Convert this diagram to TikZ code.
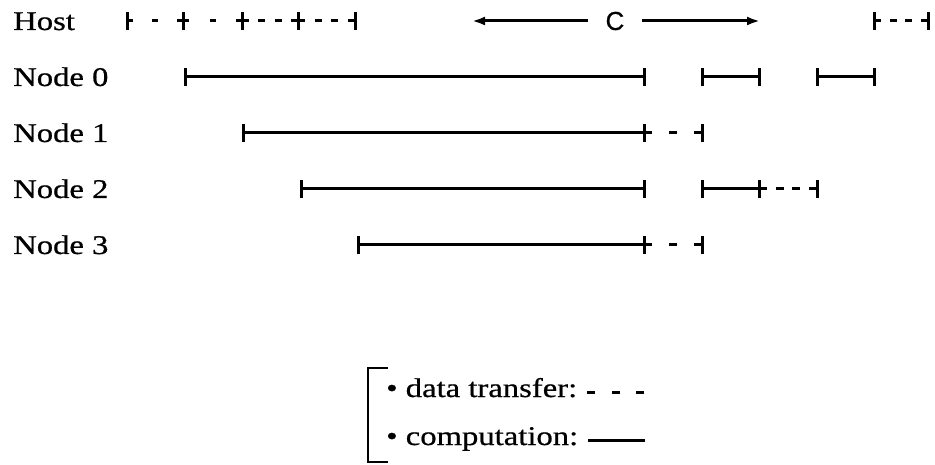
\documentclass[tikz,border=0pt]{standalone}
\usepackage{fontspec}
\setmainfont[FakeStretch=1.21,FakeBold=0.7]{Liberation Serif}
\newfontfamily\labelsans[FakeBold=0.6]{Liberation Sans}
\usetikzlibrary{arrows.meta}
\begin{document}
\begin{tikzpicture}[x=1pt,y=-1pt,
  lbl/.style={anchor=base west, inner sep=0pt, font=\fontsize{27}{32}\selectfont},
  comp/.style={line width=3pt},
  xfer/.style 2 args={line width=3pt, dash pattern=on #1pt off #2pt},
  tick/.style={line width=3pt},
  carrow/.style={line width=3pt, -{Latex[length=13pt,width=9pt]}}
]
\useasboundingbox (0,0) rectangle (935,465);

% row labels
\node[lbl] (lhost) at (13,30)  {Host};
\node[lbl] (ln0)   at (13,86)  {Node 0};
\node[lbl] (ln1)   at (13,142) {Node 1};
\node[lbl] (ln2)   at (13,198) {Node 2};
\node[lbl] (ln3)   at (13,254) {Node 3};

% host time marks
\coordinate (h0) at (127,21);
\coordinate (h1) at (183,21);
\coordinate (h2) at (242,21);
\coordinate (h3) at (298,21);
\coordinate (h4) at (355,21);
\coordinate (h5) at (874,21);
\coordinate (h6) at (928,21);
% node 0
\coordinate (a0) at (185,77);
\coordinate (a1) at (644,77);
\coordinate (a2) at (702,77);
\coordinate (a3) at (759,77);
\coordinate (a4) at (817,77);
\coordinate (a5) at (874,77);
% node 1
\coordinate (b0) at (243,133);
\coordinate (b1) at (644,133);
\coordinate (b2) at (702,133);
% node 2
\coordinate (c0) at (301,189);
\coordinate (c1) at (644,189);
\coordinate (c2) at (702,189);
\coordinate (c3) at (759,189);
\coordinate (c4) at (817,189);
% node 3
\coordinate (d0) at (358,245);
\coordinate (d1) at (644,245);
\coordinate (d2) at (702,245);

% host transfers
\draw[xfer={6}{19}]    (h0) -- (h1);
\draw[xfer={6}{20.5}]  (h1) -- (h2);
\draw[xfer={7}{9.33}]  (h2) -- (h3);
\draw[xfer={7}{9.67}]  (h3) -- (h4);
\draw[xfer={7}{8.67}]  (h5) -- (h6);

% node activity
\draw[comp] (a0) -- (a1);
\draw[comp] (a2) -- (a3);
\draw[comp] (a4) -- (a5);
\draw[comp] (b0) -- (b1);
\draw[xfer={8}{17}] (b1) -- (b2);
\draw[comp] (c0) -- (c1);
\draw[comp] (c2) -- (c3);
\draw[xfer={8}{8.67}] (c3) -- (c4);
\draw[comp] (d0) -- (d1);
\draw[xfer={8}{17}] (d1) -- (d2);

% tick marks at every boundary
\foreach \p in {h0,h1,h2,h3,h4,h5,h6,a0,a1,a2,a3,a4,a5,b0,b1,b2,c0,c1,c2,c3,c4,d0,d1,d2}
  \draw[tick] ([yshift=-9pt]\p) -- ([yshift=9pt]\p);

% cycle length C
\coordinate (cl) at (472,21);
\coordinate (cr) at (760,21);
\node[font=\labelsans\fontsize{26}{30}\selectfont, inner xsep=18pt, inner ysep=0pt, outer sep=0pt] (C) at (615,21) {C};
\draw[carrow] (C) -- (cl);
\draw[carrow] (C) -- (cr);

% legend
\draw[line width=2.6pt] (388,368) -- (368,368) -- (368,462) -- (388,462);
\node[lbl] (lx) at (386,397) {\textbullet\ data transfer:};
\node[lbl] (lc) at (386,445) {\textbullet\ computation:};
\draw[xfer={8}{16.5}] ([xshift=10pt,yshift=5pt]lx.base east) -- ++(57,0);
\draw[comp] ([xshift=10pt,yshift=5pt]lc.base east) -- ++(57,0);
\end{tikzpicture}
\end{document}
